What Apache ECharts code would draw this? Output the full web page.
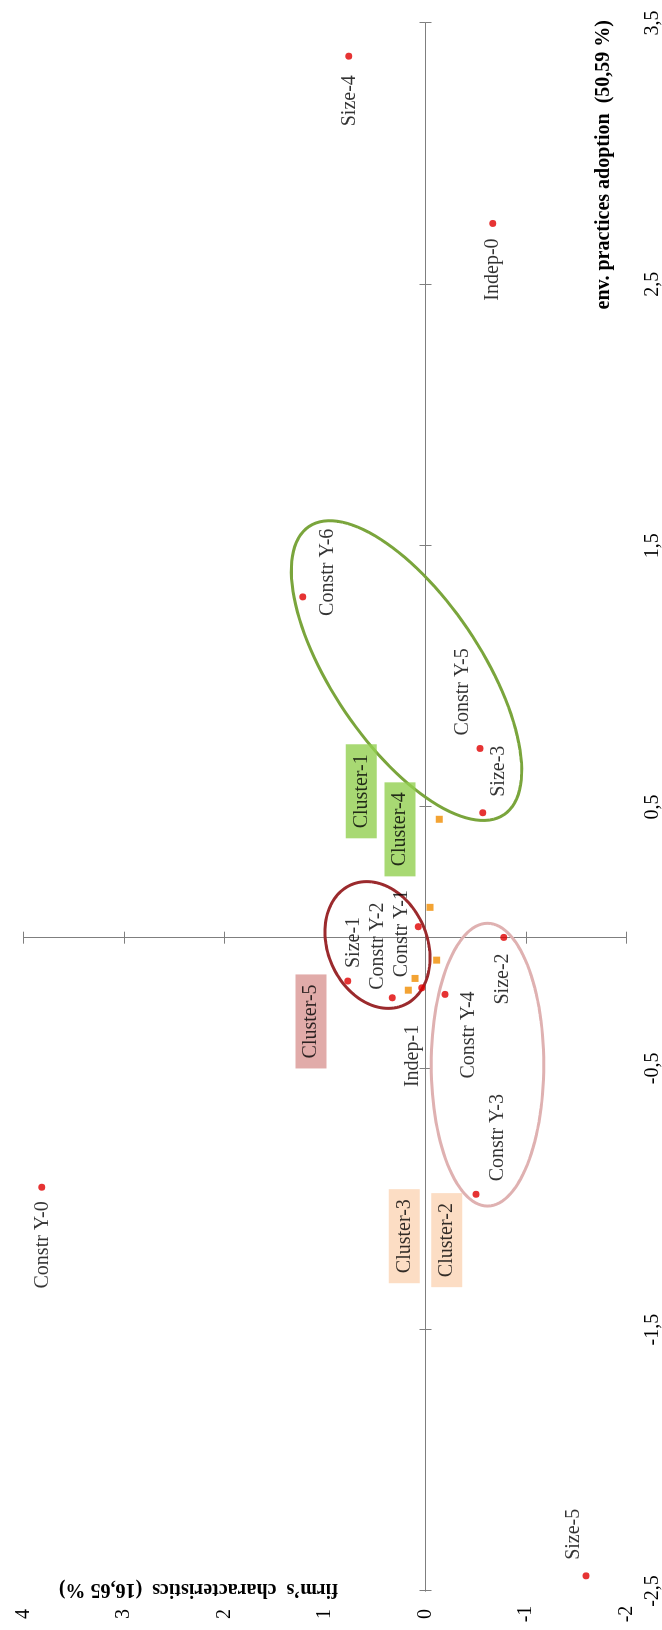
<!DOCTYPE html>
<html>
<head>
<meta charset="utf-8">
<script src="https://cdn.jsdelivr.net/npm/echarts@6.0.0/dist/echarts.min.js"></script>
<style>
html, body { margin: 0; padding: 0; background: #fff; overflow: hidden; }
/* the chart is drawn lying down and turned a quarter turn, as in the source figure */
#chart { position: absolute; left: 0; top: 0; width: 1630px; height: 662px;
         transform-origin: 0 0; transform: translateY(1630px) rotate(-90deg); }
</style>
</head>
<body>
<div id="chart"></div>
<script>
// modalities (red dots)
var modNames = ['Size-4', 'Indep-0', 'Constr Y-6', 'Constr Y-5', 'Size-3', 'Size-2', 'Constr Y-1',
                'Indep-1', 'Constr Y-4', 'Constr Y-2', 'Size-1', 'Constr Y-3', 'Constr Y-0', 'Size-5'];
var modX = [3.373, 2.733, 1.304, 0.724, 0.478, 0.001, 0.042, -0.192, -0.217, -0.230, -0.166, -0.982, -0.955, -2.442];
var modY = [0.763, -0.670, 1.221, -0.542, -0.569, -0.779, 0.072, 0.038, -0.194, 0.330, 0.774, -0.502, 3.819, -1.597];

// cluster centres (orange squares)
var clusterNames = ['Cluster-1', 'Cluster-4', 'Cluster-2', 'Cluster-5', 'Cluster-3'];
var clusterX = [0.453, 0.116, -0.086, -0.156, -0.201];
var clusterY = [-0.137, -0.045, -0.111, 0.104, 0.171];

// ellipses drawn round the groups: centre and two semi-axis vectors, data units
var ellipseCenterX = [1.022, -0.028, -0.486];
var ellipseCenterY = [0.189, 0.478, -0.617];
var ellipseAxisA = [[-0.551, -0.971], [-0.230, -0.264], [0.541, 0]];
var ellipseAxisB = [[-0.159, 0.609], [-0.077, 0.451], [0, 0.560]];

// axis ticks
var xMin = -2.5, xMax = 3.5, xStep = 1;
var yMin = -2, yMax = 4, yStep = 1;

// label placement / colours (style only)
var modLabelAlign = ['right', 'right', 'left', 'left', 'left', 'right', 'center', 'right', 'right', 'left', 'left', 'left', 'right', 'left'];
var modLabelOffset = [[-19, 1], [-15, 0], [-19, 25], [13, -17], [16, 16], [-16, -1], [-7, -17],
                      [-37, -9], [3, 24], [8, -15], [13, 6], [13, 22], [-14, 1], [16, -12]];
var clusterLabelOffset = [[28, -78], [78, -30], [-280, 10], [-43, -104], [-246, -4]];
var clusterLabelBg = ['#92d050', '#92d050', '#fbd5b5', '#d99694', '#fbd5b5'];
var ellipseColors = ['#7aa53c', '#9b2a2d', '#dfb1b1'];

var serif = '"Liberation Serif", "Times New Roman", serif';
var axisGray = '#7f7f7f';

function commaNum(v) {
    return String(v).replace('.', ',');
}

function renderEllipse(params, api) {
    var i = params.dataIndex;
    var cx = api.value(0), cy = api.value(1);
    var a = ellipseAxisA[i], b = ellipseAxisB[i];
    var pts = [];
    for (var k = 0; k < 120; k++) {
        var t = k / 120 * Math.PI * 2;
        pts.push(api.coord([cx + a[0] * Math.cos(t) + b[0] * Math.sin(t),
                            cy + a[1] * Math.cos(t) + b[1] * Math.sin(t)]));
    }
    return {
        type: 'polygon',
        shape: { points: pts },
        style: { fill: 'none', stroke: ellipseColors[i], lineWidth: 3 }
    };
}

function lineAxis(dim, pos, gridIndex) {
    var ax = {
        type: 'value', gridIndex: gridIndex, position: pos,
        axisLine: { show: true, onZero: true, lineStyle: { color: axisGray, width: 1 } },
        axisTick: { show: true, inside: false, length: 6, lineStyle: { color: axisGray, width: 1 } },
        axisLabel: { show: false },
        splitLine: { show: false }
    };
    if (dim === 'x') { ax.min = xMin; ax.max = xMax; ax.interval = xStep; }
    else { ax.min = yMin; ax.max = yMax; ax.interval = yStep; }
    return ax;
}

var gridBox = { left: 39, right: 23, top: 23.5, bottom: 35.5, outerBoundsMode: 'none' };

var modData = [];
for (var i = 0; i < modNames.length; i++) {
    modData.push({
        name: modNames[i],
        value: [modX[i], modY[i]],
        label: { align: modLabelAlign[i], offset: modLabelOffset[i] }
    });
}
var clusterData = [];
for (var j = 0; j < clusterNames.length; j++) {
    clusterData.push({
        name: clusterNames[j],
        value: [clusterX[j], clusterY[j]],
        label: { offset: clusterLabelOffset[j], backgroundColor: clusterLabelBg[j] }
    });
}
var ellipseData = [];
for (var e = 0; e < ellipseCenterX.length; e++) {
    ellipseData.push([ellipseCenterX[e], ellipseCenterY[e]]);
}

var myChart = echarts.init(document.getElementById('chart'), null, { width: 1630, height: 662 });

var option = {
    animation: false,
    backgroundColor: '#fff',
    grid: [gridBox, gridBox],
    xAxis: [
        {
            type: 'value', gridIndex: 0, position: 'bottom',
            min: xMin, max: xMax, interval: xStep,
            axisLine: { show: false, onZero: false },
            axisTick: { show: false },
            splitLine: { show: false },
            axisLabel: { color: '#000', fontFamily: serif, fontSize: 20, margin: 16, formatter: commaNum }
        },
        lineAxis('x', 'bottom', 0),
        lineAxis('x', 'top', 1)
    ],
    yAxis: [
        {
            type: 'value', gridIndex: 0, position: 'left',
            min: yMin, max: yMax, interval: yStep,
            axisLine: { show: false, onZero: false },
            axisTick: { show: false },
            splitLine: { show: false },
            axisLabel: { color: '#000', fontFamily: serif, fontSize: 20, margin: 23, align: 'center' }
        },
        lineAxis('y', 'left', 0),
        lineAxis('y', 'right', 1)
    ],
    graphic: [
        {
            type: 'text', x: 1610, y: 604, z: 10,
            style: { text: 'env. practices adoption  (50,59 %)', font: 'bold 20px ' + serif,
                     fill: '#000', align: 'right', verticalAlign: 'middle' }
        },
        {
            type: 'text', x: 41, y: 338, rotation: Math.PI / 2, z: 10,
            style: { text: 'firm\u2019s  characteristics  (16,65 %)', font: 'bold 20px ' + serif,
                     fill: '#000', align: 'left', verticalAlign: 'middle' }
        }
    ],
    series: [
        {
            type: 'custom', xAxisIndex: 0, yAxisIndex: 0, z: 1,
            renderItem: renderEllipse,
            encode: { x: 0, y: 1 },
            clip: false,
            data: ellipseData
        },
        {
            type: 'scatter', xAxisIndex: 0, yAxisIndex: 0, z: 3,
            symbol: 'rect', symbolSize: 7,
            itemStyle: { color: '#f08c00' },
            label: {
                show: true, position: 'inside', formatter: '{b}',
                align: 'center', verticalAlign: 'middle',
                color: '#000', fontFamily: serif, fontSize: 20, lineHeight: 23,
                padding: [4, 10, 4, 10], textBorderWidth: 0
            },
            data: clusterData
        },
        {
            type: 'scatter', xAxisIndex: 0, yAxisIndex: 0, z: 4,
            symbol: 'circle', symbolSize: 7,
            itemStyle: { color: '#e00000' },
            label: {
                show: true, position: 'inside', formatter: '{b}',
                verticalAlign: 'middle',
                color: '#000', fontFamily: serif, fontSize: 20, textBorderWidth: 0
            },
            data: modData
        }
    ]
};

myChart.setOption(option);
</script>
</body>
</html>
